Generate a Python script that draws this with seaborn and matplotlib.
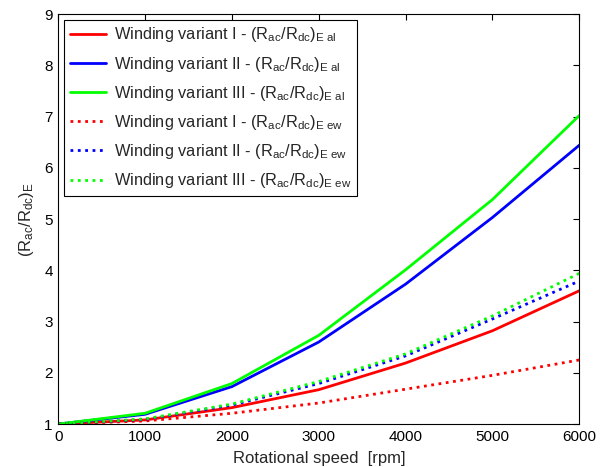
import numpy as np
import pandas as pd
import matplotlib
matplotlib.use("Agg")
import matplotlib.pyplot as plt
import seaborn as sns

speed = [0, 1000, 2000, 3000, 4000, 5000, 6000]
v1_al = [1.0, 1.08, 1.32, 1.67, 2.19, 2.82, 3.60]
v2_al = [1.0, 1.19, 1.73, 2.60, 3.73, 5.03, 6.44]
v3_al = [1.0, 1.21, 1.79, 2.73, 4.01, 5.38, 7.02]
v1_ew = [1.0, 1.06, 1.21, 1.41, 1.68, 1.95, 2.25]
v2_ew = [1.0, 1.09, 1.37, 1.79, 2.33, 3.05, 3.79]
v3_ew = [1.0, 1.10, 1.39, 1.83, 2.37, 3.11, 3.94]

labels = [
    r"Winding variant I - (R$_{ac}$/R$_{dc}$)$_{E\ al}$",
    r"Winding variant II - (R$_{ac}$/R$_{dc}$)$_{E\ al}$",
    r"Winding variant III - (R$_{ac}$/R$_{dc}$)$_{E\ al}$",
    r"Winding variant I - (R$_{ac}$/R$_{dc}$)$_{E\ ew}$",
    r"Winding variant II - (R$_{ac}$/R$_{dc}$)$_{E\ ew}$",
    r"Winding variant III - (R$_{ac}$/R$_{dc}$)$_{E\ ew}$",
]
series = [v1_al, v2_al, v3_al, v1_ew, v2_ew, v3_ew]
colors = ["#ff0000", "#0000ff", "#00ff00", "#ff0000", "#0000ff", "#00ff00"]
styles = ["-", "-", "-", ":", ":", ":"]

sns.set_theme(style="white")
plt.rcParams["font.family"] = ["Liberation Sans", "DejaVu Sans"]
plt.rcParams["mathtext.default"] = "regular"
plt.rcParams["mathtext.fontset"] = "custom"
plt.rcParams["mathtext.rm"] = "Liberation Sans"
plt.rcParams["mathtext.it"] = "Liberation Sans"

fig = plt.figure(figsize=(6.13, 4.67), dpi=100)
ax = fig.add_axes([0.095, 0.092, 0.850, 0.878])

for lab, ys, c, ls in zip(labels, series, colors, styles):
    df = pd.DataFrame({"x": speed, "y": ys})
    sns.lineplot(data=df, x="x", y="y", ax=ax, color=c, linestyle=ls,
                 linewidth=2.0, label=lab)

ax.set_xlim(0, 6000)
ax.set_ylim(1, 9)
ax.set_xticks(range(0, 6001, 1000))
ax.set_yticks(range(1, 10))
ax.set_xlabel("Rotational speed  [rpm]", fontsize=12, labelpad=5)
ax.set_ylabel(r"(R$_{ac}$/R$_{dc}$)$_{E}$", fontsize=12, labelpad=6)
ax.tick_params(direction="in", top=True, right=True, length=4, width=0.8,
               labelsize=11, colors="black", pad=4)
for s in ax.spines.values():
    s.set_color("black")
    s.set_linewidth(0.8)

leg = ax.legend(loc="upper left", fontsize=11.8, frameon=True, fancybox=False,
                framealpha=1, edgecolor="black", handlelength=2.2,
                borderaxespad=0.35, labelspacing=0.62, handletextpad=0.5,
                borderpad=0.35)
leg.get_frame().set_linewidth(0.8)

fig.savefig("out.png", dpi=100)
